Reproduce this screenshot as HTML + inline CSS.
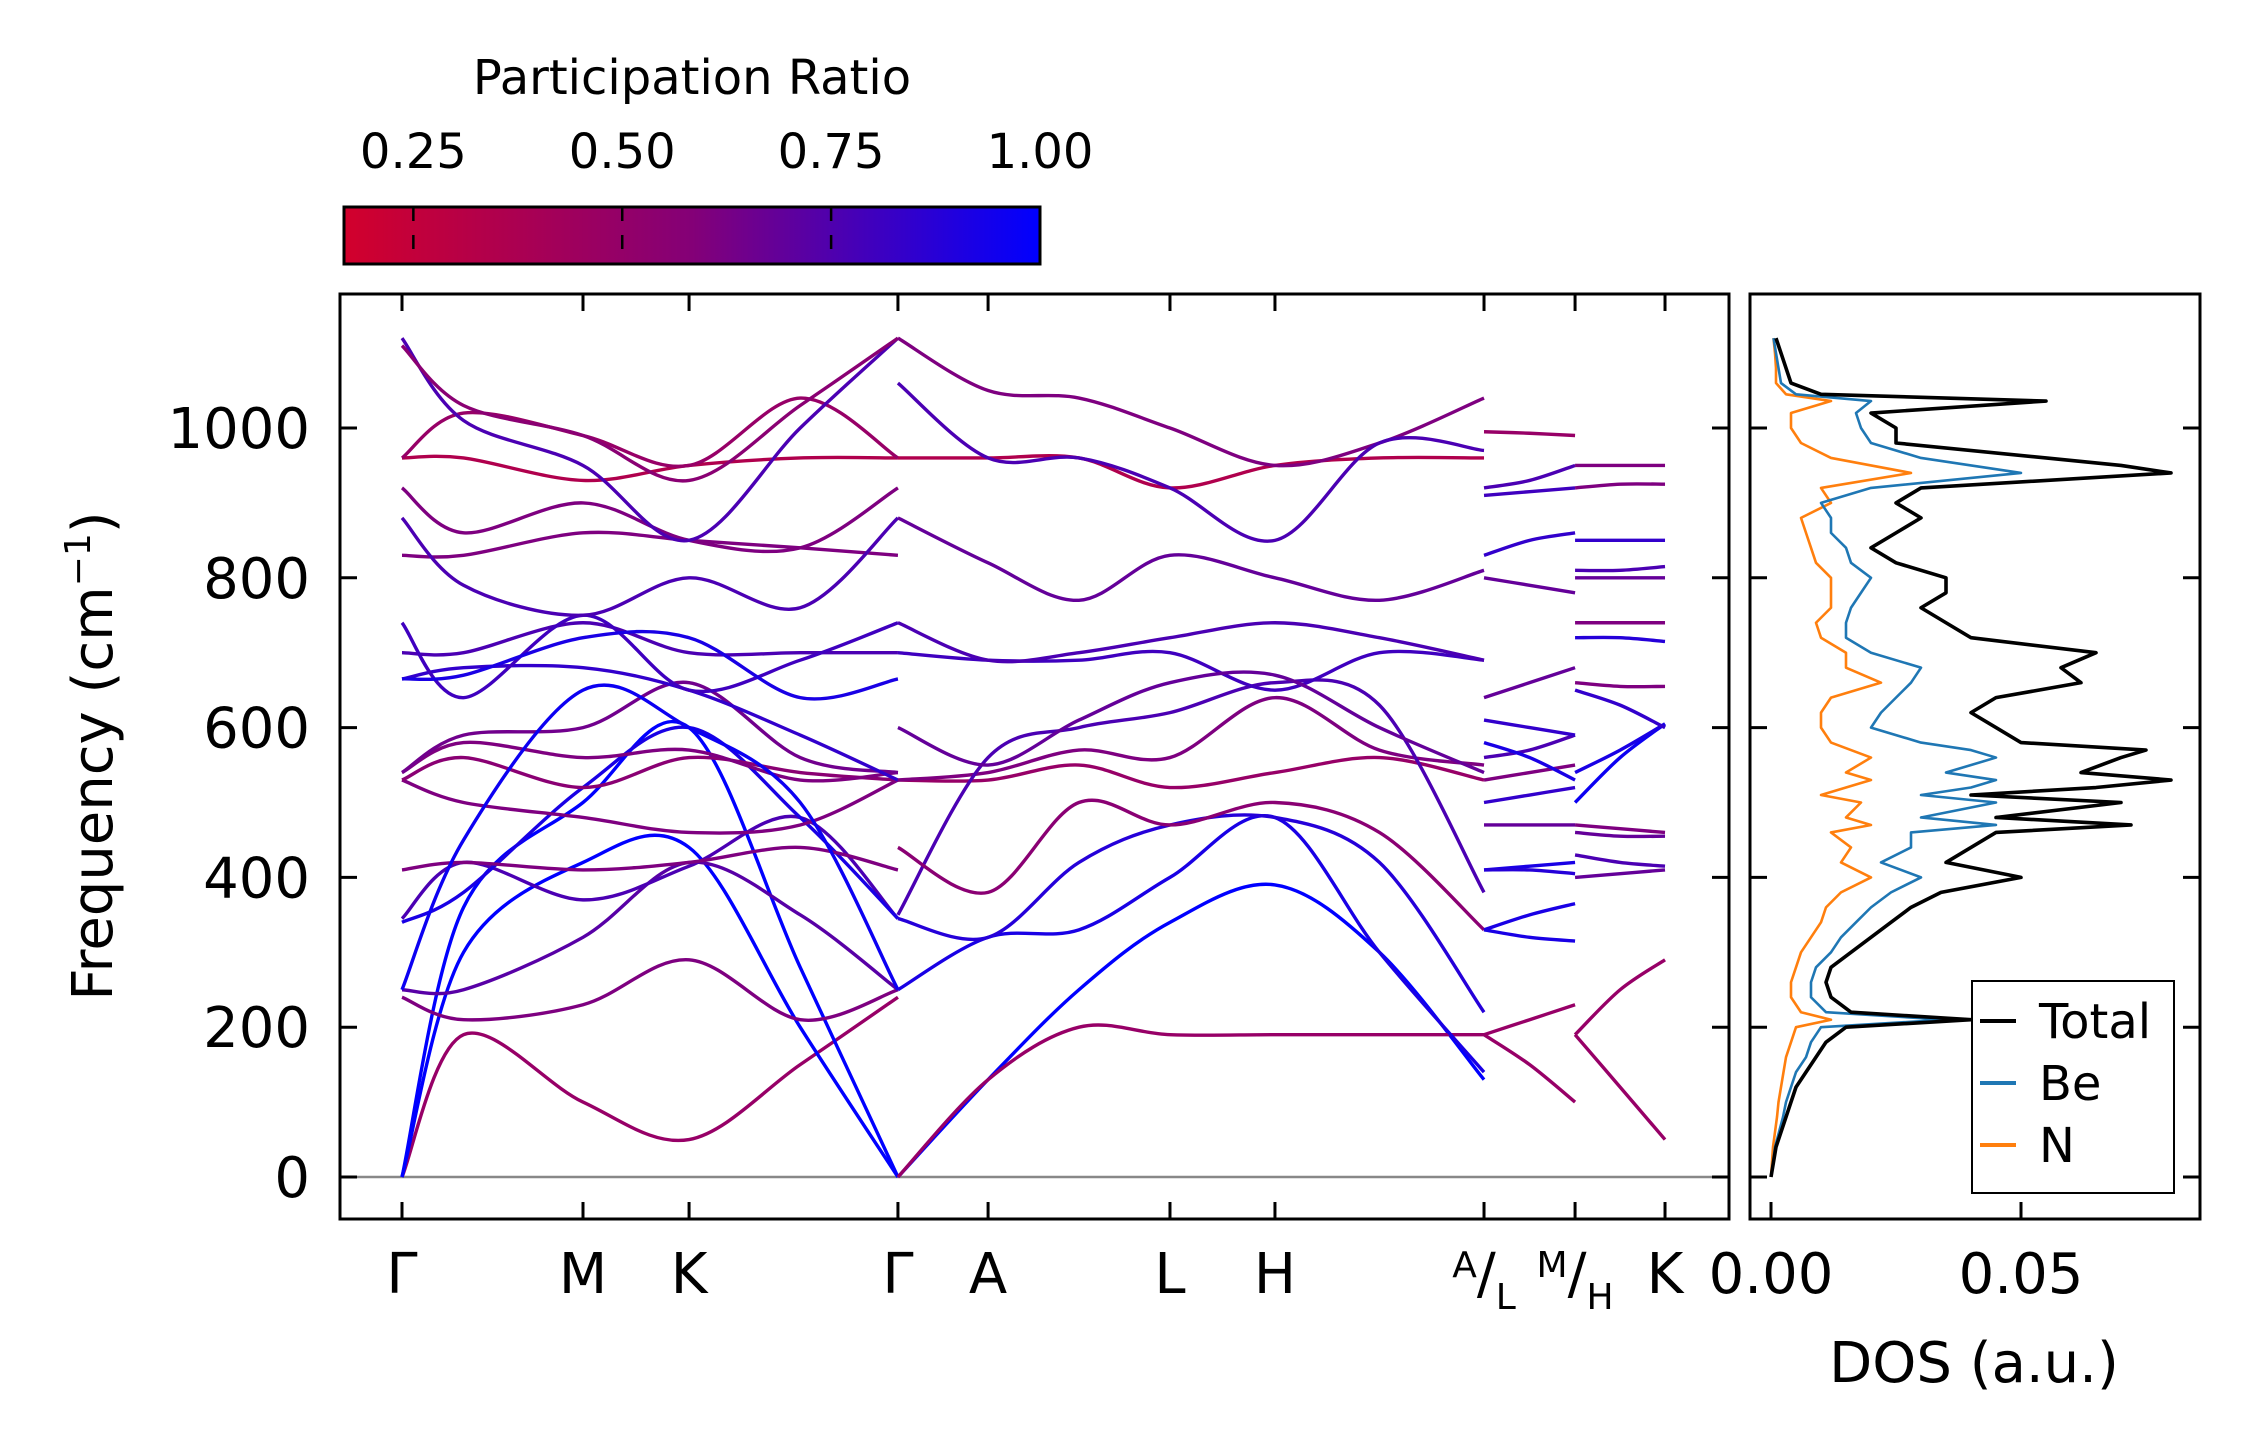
<!DOCTYPE html>
<html><head><meta charset="utf-8"><style>
html,body{margin:0;padding:0;background:#fff;}
svg{display:block;font-family:"DejaVu Sans","Liberation Sans",sans-serif;}
</style></head><body>
<svg id="chart" width="2259" height="1455" viewBox="0 0 2259 1455" xmlns="http://www.w3.org/2000/svg">
<defs>
<linearGradient id="cmap" x1="0" x2="1" y1="0" y2="0">
<stop offset="0" stop-color="#d2002c"/><stop offset="0.5" stop-color="#840077"/><stop offset="1" stop-color="#0000ff"/>
</linearGradient>
<clipPath id="mainclip"><rect x="340" y="294" width="1389" height="925"/></clipPath>
<clipPath id="dosclip"><rect x="1750" y="294" width="450" height="925"/></clipPath>
</defs>
<g id="colorbar">
<text x="692" y="94" font-size="48" text-anchor="middle">Participation Ratio</text>
<rect x="344" y="207" width="696" height="57" fill="url(#cmap)" stroke="#000" stroke-width="3"/>
</g>
<g id="main"></g>
<g id="dos"></g>
</svg>
<script>
// ---------- data ----------
const kLabels = ["Γ","M","K","Γ","A","L","H","A|L","M|H","K"];
const kDist = [0,1,1.586,2.74,3.238,4.243,4.823,5.978,6.481,6.978];
const freqTicks = [0,200,400,600,800,1000];
const cbTicks = [0.25,0.5,0.75,1.0];
const seg1K = [0,0.34,1,1.586,2.2,2.74];
const seg1Bands = [
 [0,190,100,50,150,240],[0,300,420,440,200,0],[0,360,500,600,280,0],
 [240,210,230,290,210,250],[250,250,320,420,350,250],[345,420,370,415,480,345],
 [340,380,520,600,480,345],[410,420,410,420,440,410],[530,500,480,460,470,530],
 [530,560,520,560,540,530],[540,580,560,570,530,540],[540,590,600,660,560,540],
 [665,680,680,650,590,530],[700,700,740,700,700,700],[740,640,750,650,690,740],
 [665,670,720,720,640,665],[830,830,860,850,840,830],[880,790,750,800,760,880],
 [920,860,900,850,840,920],[960,960,930,950,960,960],[960,1020,990,950,1040,960],
 [1120,1010,950,850,1000,1120],[1110,1030,990,930,1030,1120],[250,450,650,600,500,250]
];
const seg1PR = [0.4,1,1,0.5,0.65,0.7,0.9,0.5,0.5,0.45,0.5,0.55,0.8,0.7,0.75,0.9,0.5,0.7,0.5,0.3,0.4,0.7,0.45,0.95];
const seg2K = [2.74,3.238,3.74,4.243,4.823,5.4,5.978];
const seg2Bands = [
 [0,130,250,340,390,300,130],[0,130,200,190,190,190,190],[250,320,330,400,480,300,140],
 [345,320,420,470,480,420,220],[530,530,550,520,540,560,530],[530,540,570,560,640,570,550],
 [350,560,600,620,660,630,380],[700,690,690,700,650,700,690],[740,690,700,720,740,720,690],
 [880,820,770,830,800,770,810],[960,960,960,920,950,960,960],[1120,1050,1040,1000,950,980,1040],
 [1060,960,960,920,850,980,970],[440,380,500,470,500,460,330],[600,550,610,660,670,600,540]
];
const seg2PR = [1,0.4,0.9,0.85,0.4,0.5,0.7,0.75,0.7,0.6,0.3,0.5,0.7,0.45,0.6];
const seg3K = [5.978,6.23,6.481];
const seg3Bands = [[190,150,100],[190,210,230],[330,350,365],[330,320,315],[410,415,420],[410,410,405],
 [470,470,470],[500,510,520],[530,540,550],[560,570,590],[580,560,530],[640,660,680],[610,600,590],
 [800,790,780],[830,850,860],[920,930,950],[910,915,920],[995,993,990]];
const seg3PR = [0.4,0.4,0.9,0.9,0.9,0.85,0.6,0.8,0.5,0.7,0.9,0.6,0.8,0.6,0.8,0.7,0.75,0.4];
const seg4K = [6.481,6.73,6.978];
const seg4Bands = [[190,120,50],[190,250,290],[400,405,410],[430,420,415],[470,465,460],[460,455,455],
 [500,560,605],[540,570,605],[650,630,600],[660,655,655],[720,720,715],[740,740,740],[800,800,800],
 [810,810,815],[850,850,850],[920,925,925],[950,950,950]];
const seg4PR = [0.4,0.4,0.6,0.7,0.5,0.6,0.95,0.9,0.8,0.5,0.85,0.5,0.6,0.7,0.8,0.5,0.5];
const dosFreq = [0,20,40,60,80,100,120,140,160,180,200,210,220,240,260,280,300,320,340,360,380,400,420,440,460,470,480,500,510,520,530,540,560,570,580,600,620,640,660,680,700,720,740,760,780,800,820,840,860,880,900,920,940,950,960,980,1000,1020,1036,1045,1060,1080,1100,1120];
const dosTotal = [0,0.0005,0.001,0.002,0.003,0.004,0.005,0.007,0.009,0.011,0.015,0.04,0.016,0.012,0.011,0.012,0.016,0.02,0.024,0.028,0.034,0.05,0.035,0.04,0.045,0.072,0.045,0.07,0.04,0.065,0.08,0.062,0.07,0.075,0.05,0.045,0.04,0.045,0.062,0.058,0.065,0.04,0.035,0.03,0.035,0.035,0.025,0.02,0.025,0.03,0.025,0.03,0.08,0.07,0.055,0.025,0.025,0.02,0.055,0.01,0.004,0.003,0.002,0.001];
const dosBe = [0,0.0004,0.0008,0.0016,0.0024,0.003,0.004,0.005,0.007,0.008,0.01,0.035,0.011,0.008,0.008,0.009,0.012,0.014,0.017,0.02,0.024,0.03,0.022,0.028,0.028,0.045,0.03,0.045,0.03,0.04,0.045,0.035,0.045,0.04,0.03,0.02,0.022,0.025,0.028,0.03,0.02,0.015,0.015,0.016,0.018,0.02,0.016,0.015,0.012,0.012,0.01,0.02,0.05,0.04,0.03,0.02,0.018,0.017,0.02,0.005,0.002,0.0015,0.001,0.0005];
const dosN = [0,0.0002,0.0004,0.0008,0.0012,0.0015,0.002,0.0025,0.003,0.004,0.005,0.012,0.006,0.004,0.004,0.005,0.006,0.008,0.01,0.011,0.014,0.02,0.014,0.016,0.012,0.02,0.015,0.018,0.01,0.015,0.02,0.015,0.02,0.016,0.012,0.01,0.01,0.012,0.022,0.015,0.015,0.01,0.009,0.012,0.012,0.012,0.009,0.008,0.007,0.006,0.012,0.01,0.028,0.02,0.012,0.006,0.004,0.004,0.012,0.003,0.001,0.001,0.0008,0.0005];
const dosTicks = [0,0.05];
// ---------- scales ----------
const NS="http://www.w3.org/2000/svg";
const xK = d => 402 + d*181;
const yF = f => 1177 - f*0.749;
const xD = v => 1771 + v*5000;
const cbX = v => 344 + (v-0.167)/(1-0.167)*696;
function prColor(p){const t=Math.max(0,Math.min(1,(p-0.167)/(0.833)));
 const r=210*(1-t), b=44+(255-44)*t; return `rgb(${r|0},0,${b|0})`;}
function mk(tag,attrs,parent){const e=document.createElementNS(NS,tag);for(const k in attrs)e.setAttribute(k,attrs[k]);parent.appendChild(e);return e;}
function smooth(pts){let d=`M${pts[0][0]},${pts[0][1]}`;for(let i=0;i<pts.length-1;i++){const p0=pts[Math.max(0,i-1)],p1=pts[i],p2=pts[i+1],p3=pts[Math.min(pts.length-1,i+2)];
 const c1=[p1[0]+(p2[0]-p0[0])/6,p1[1]+(p2[1]-p0[1])/6],c2=[p2[0]-(p3[0]-p1[0])/6,p2[1]-(p3[1]-p1[1])/6];
 d+=` C${c1[0]},${c1[1]} ${c2[0]},${c2[1]} ${p2[0]},${p2[1]}`;}return d;}
const main=document.getElementById('main');
const dos=document.getElementById('dos');
const cb=document.getElementById('colorbar');
cbTicks.forEach(v=>{const x=cbX(v);
 const l=mk('line',{x1:x,x2:x,y1:207,y2:264,stroke:'#000','stroke-width':2.5,'stroke-dasharray':'14,14'},cb);
 
 
 const t=mk('text',{x:x,y:168,'font-size':48,'text-anchor':'middle'},cb);t.textContent=v.toFixed(2);
 
 });
const zl=mk('line',{x1:340,x2:1729,y1:yF(0),y2:yF(0),stroke:'#888','stroke-width':2.5},main);


const bandsG=mk('g',{'clip-path':'url(#mainclip)'},main);


[[seg1K,seg1Bands,seg1PR],[seg2K,seg2Bands,seg2PR],[seg3K,seg3Bands,seg3PR],[seg4K,seg4Bands,seg4PR]].forEach(([ks,bands,pr])=>{
 bands.forEach((b,bi)=>{const pts=b.map((f,i)=>[xK(ks[i]),yF(f)]);
  const p=mk('path',{d:smooth(pts),fill:'none',stroke:prColor(pr[bi]),'stroke-width':3.4},bandsG);
  
  });});
const mf=mk('rect',{x:340,y:294,width:1389,height:925,fill:'none',stroke:'#000','stroke-width':3},main);


freqTicks.forEach(f=>{const y=yF(f);
 mk('line',{x1:340,x2:357,y1:y,y2:y,stroke:'#000','stroke-width':3},main);
 mk('line',{x1:1712,x2:1729,y1:y,y2:y,stroke:'#000','stroke-width':3},main);
 mk('line',{x1:1750,x2:1767,y1:y,y2:y,stroke:'#000','stroke-width':3},dos);
 mk('line',{x1:2183,x2:2200,y1:y,y2:y,stroke:'#000','stroke-width':3},dos);
 const t=mk('text',{x:310,y:y+20,'font-size':56,'text-anchor':'end'},main);t.textContent=f;
 
 });
kDist.forEach((d,i)=>{const x=xK(d);
 mk('line',{x1:x,x2:x,y1:294,y2:311,stroke:'#000','stroke-width':3},main);
 mk('line',{x1:x,x2:x,y1:1202,y2:1219,stroke:'#000','stroke-width':3},main);
 const lab=kLabels[i];let t;
 if(lab.includes('|')){const [a,b]=lab.split('|');
  t=mk('text',{x:x,y:1293,'font-size':56,'text-anchor':'middle'},main);
  const s1=mk('tspan',{'font-size':36,dy:-16},t);s1.textContent=a;
  const s2=mk('tspan',{dy:16},t);s2.textContent='/';
  const s3=mk('tspan',{'font-size':36,dy:16},t);s3.textContent=b;}
 else{t=mk('text',{x:x,y:1293,'font-size':56,'text-anchor':'middle'},main);t.textContent=lab;}
 
 });
const yl=mk('text',{x:0,y:0,'font-size':56,'text-anchor':'middle',transform:'translate(112,756) rotate(-90)'},main);


yl.innerHTML='Frequency (cm<tspan font-size="36" dy="-22">−1</tspan><tspan dy="22">)</tspan>';
const dg=mk('g',{'clip-path':'url(#dosclip)'},dos);


[[dosN,'#ff7f0e',2.6,'dos-n-line'],[dosBe,'#1f77b4',2.6,'dos-be-line'],[dosTotal,'#000',3.6,'dos-total-line']].forEach(([arr,c,w,n])=>{
 const d=arr.map((v,i)=>(i?'L':'M')+xD(v)+','+yF(dosFreq[i])).join(' ');
 const p=mk('path',{d:d,fill:'none',stroke:c,'stroke-width':w,'stroke-linejoin':'round'},dg);
 
 });
const df=mk('rect',{x:1750,y:294,width:450,height:925,fill:'none',stroke:'#000','stroke-width':3},dos);


dosTicks.forEach(v=>{const x=xD(v);
 mk('line',{x1:x,x2:x,y1:1202,y2:1219,stroke:'#000','stroke-width':3},dos);
 const t=mk('text',{x:x,y:1293,'font-size':56,'text-anchor':'middle'},dos);t.textContent=v.toFixed(2);
 
 });
const dl=mk('text',{x:1974,y:1382,'font-size':56,'text-anchor':'middle'},dos);dl.textContent='DOS (a.u.)';


const lg=mk('g',{},dos);


mk('rect',{x:1972,y:981,width:202,height:212,fill:'#fff',stroke:'#000','stroke-width':2},lg);
[['Total','#000',1021],['Be','#1f77b4',1083],['N','#ff7f0e',1145]].forEach(([n,c,y])=>{
 mk('line',{x1:1980,x2:2016,y1:y,y2:y,stroke:c,'stroke-width':4},lg);
 const t=mk('text',{x:2039,y:y+17,'font-size':48},lg);t.textContent=n;
 
 });
</script>
</body></html>
